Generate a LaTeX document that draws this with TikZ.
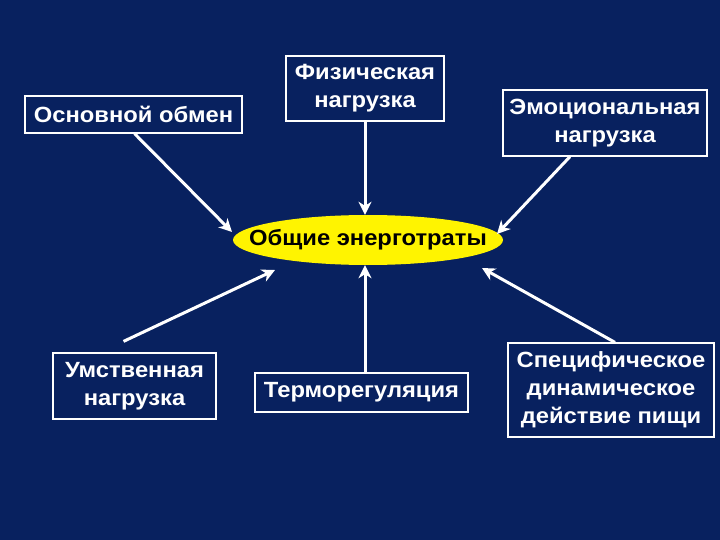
\documentclass[tikz,border=0pt]{standalone}
\usepackage{fontspec}
\setmainfont{Liberation Sans}[FakeStretch=1.08]
\usetikzlibrary{shapes.geometric,arrows.meta,calc}
\definecolor{bgnavy}{RGB}{8,33,95}
\definecolor{ellyellow}{RGB}{255,244,0}
\tikzset{
  box/.style={draw=white, line width=1.2pt, text=white, align=center, inner sep=0pt,
    font=\bfseries\fontsize{22}{28}\selectfont},
  arr/.style={draw=white, line width=3pt, -{Stealth[length=13pt,width=13pt,inset=4pt]}},
}
\begin{document}
\begin{tikzpicture}[x=1pt,y=-1pt]
\fill[bgnavy] (0,0) rectangle (720,540);
\useasboundingbox (0,0) rectangle (720,540);
\node[box, minimum width=217pt, minimum height=37pt] (b1) at (133.5,114.5) {Основной обмен};
\node[box, minimum width=158pt, minimum height=65pt] (b2) at (365,88.5) {Физическая\\нагрузка};
\node[box, minimum width=204pt, minimum height=66pt] (b3) at (605,123) {Эмоциональная\\нагрузка};
\node[ellipse, fill=ellyellow, minimum width=270pt, minimum height=50pt, inner xsep=-25pt, inner ysep=0pt,
  font=\bfseries\fontsize{22}{24}\selectfont, text=black] (e) at (368,240) {Общие энерготраты};
\node[box, minimum width=163pt, minimum height=66pt] (b4) at (134.5,386) {Умственная\\нагрузка};
\node[box, minimum width=213pt, minimum height=39pt] (b5) at (361.5,392.5) {Терморегуляция};
\node[box, minimum width=206pt, minimum height=94pt] (b6) at (611,390) {Специфическое\\динамическое\\действие пищи};
\draw[arr] ($(b1.south)+(1,0)$) -- ($(e.center)+(-136,-8)$);
\draw[arr] ($(b2.south)+(0,0)$) -- ($(e.north)+(-3,0)$);
\draw[arr] ($(b3.south)+(-35,0)$) -- ($(e.center)+(129,-6)$);
\draw[arr] ($(b4.north)+(-11,-11)$) -- ($(e.center)+(-93,30)$);
\draw[arr] ($(b5.north)+(3.5,0)$) -- ($(e.south)+(-3,0)$);
\draw[arr] ($(b6.north)+(4,0)$) -- ($(e.center)+(114,28)$);
\end{tikzpicture}
\end{document}
